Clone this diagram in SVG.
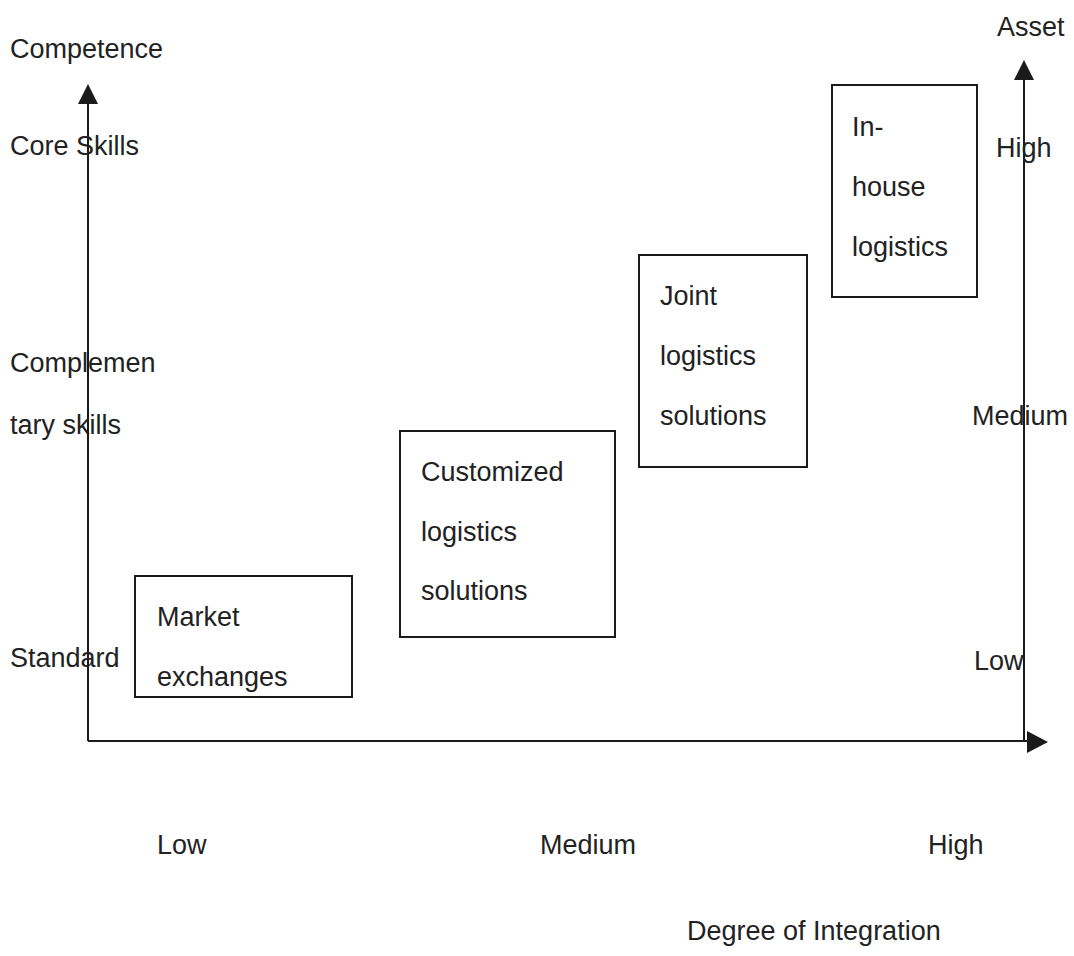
<svg xmlns="http://www.w3.org/2000/svg" width="1074" height="956" viewBox="0 0 1074 956">
<style>
text{font-family:"Liberation Sans",Arial,sans-serif;font-size:27px;fill:#222}
.box{fill:none;stroke:#1a1a1a;stroke-width:2}
.ax{stroke:#1a1a1a;stroke-width:2;fill:none}
.ah{fill:#1a1a1a}
</style>
<rect width="1074" height="956" fill="#fff"/>
<g id="axes">
<line class="ax" x1="88" y1="741" x2="88" y2="100"/>
<polygon class="ah" points="88,84 78,104 98,104"/>
<line class="ax" x1="1024" y1="741" x2="1024" y2="76"/>
<polygon class="ah" points="1024,60 1014,80 1034,80"/>
<line class="ax" x1="88" y1="741" x2="1030" y2="741"/>
<polygon class="ah" points="1048,742 1027,731 1027,753"/>
</g>
<g id="axis-labels">
<text x="10" y="58">Competence</text>
<text x="10" y="155">Core Skills</text>
<text x="10" y="372">Complemen</text>
<text x="10" y="434">tary skills</text>
<text x="10" y="667">Standard</text>
<text x="997" y="36">Asset</text>
<text x="996" y="157">High</text>
<text x="972" y="425">Medium</text>
<text x="974" y="670">Low</text>
<text x="157" y="854">Low</text>
<text x="540" y="854">Medium</text>
<text x="928" y="854">High</text>
<text x="687" y="940">Degree of Integration</text>
</g>
<g id="market">
<rect class="box" x="135" y="576" width="217" height="121"/>
<text x="157" y="626">Market</text>
<text x="157" y="686">exchanges</text>
</g>
<g id="customized">
<rect class="box" x="400" y="431" width="215" height="206"/>
<text x="421" y="481">Customized</text>
<text x="421" y="541">logistics</text>
<text x="421" y="600">solutions</text>
</g>
<g id="joint">
<rect class="box" x="639" y="255" width="168" height="212"/>
<text x="660" y="305">Joint</text>
<text x="660" y="365">logistics</text>
<text x="660" y="425">solutions</text>
</g>
<g id="inhouse">
<rect class="box" x="832" y="85" width="145" height="212"/>
<text x="852" y="136">In-</text>
<text x="852" y="196">house</text>
<text x="852" y="256">logistics</text>
</g>
</svg>
